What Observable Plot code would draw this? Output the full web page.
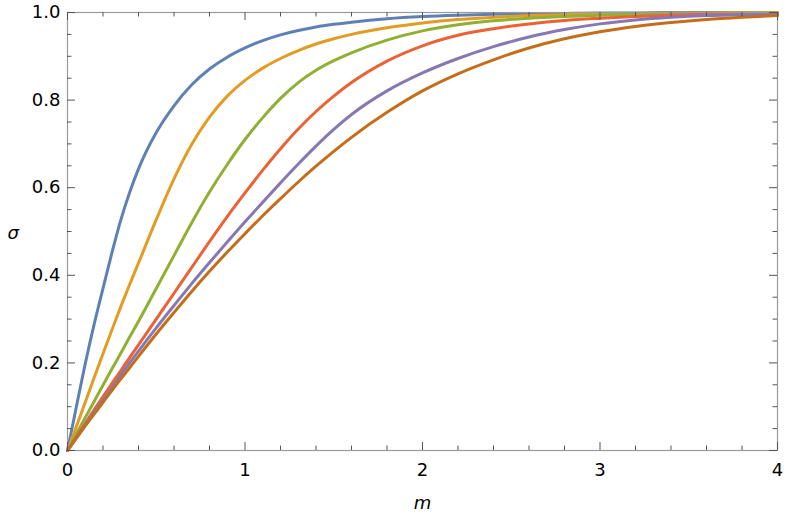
<!DOCTYPE html>
<html>
<head>
<meta charset="utf-8">
<script src="https://cdn.jsdelivr.net/npm/d3@7"></script>
<script src="https://cdn.jsdelivr.net/npm/@observablehq/plot@0.6"></script>
<style>
  html, body { margin: 0; padding: 0; background: #ffffff; }
  #chart { width: 786px; height: 523px; }
</style>
</head>
<body>
<div id="chart"></div>
<script>
// sample positions along m
const mValues = [0, 0.05, 0.1, 0.15, 0.2, 0.25, 0.3, 0.35, 0.4, 0.5, 0.6, 0.7, 0.8, 0.9, 1.0, 1.1, 1.2, 1.3, 1.4, 1.5, 1.6, 1.8, 2.0, 2.2, 2.4, 2.6, 2.8, 3.0, 3.2, 3.4, 3.6, 3.8, 4.0];

// sigma for each curve
const sigma1 = [0, 0.100, 0.198, 0.288, 0.370, 0.451, 0.526, 0.589, 0.643, 0.726, 0.787, 0.835, 0.871, 0.898, 0.919, 0.936, 0.949, 0.959, 0.967, 0.973, 0.978, 0.986, 0.991, 0.994, 0.996, 0.997, 0.998, 0.999, 0.999, 1.000, 1.000, 1.000, 1.000];
const sigma2 = [0, 0.055, 0.110, 0.166, 0.221, 0.275, 0.328, 0.379, 0.428, 0.527, 0.620, 0.699, 0.761, 0.809, 0.845, 0.873, 0.895, 0.913, 0.928, 0.940, 0.950, 0.965, 0.976, 0.984, 0.989, 0.993, 0.995, 0.997, 0.998, 0.999, 0.999, 1.000, 1.000];
const sigma3 = [0, 0.038, 0.075, 0.112, 0.149, 0.186, 0.222, 0.259, 0.295, 0.370, 0.445, 0.520, 0.590, 0.653, 0.710, 0.760, 0.804, 0.840, 0.868, 0.890, 0.908, 0.937, 0.958, 0.972, 0.981, 0.987, 0.991, 0.994, 0.996, 0.997, 0.998, 0.999, 0.999];
const sigma4 = [0, 0.031, 0.062, 0.093, 0.123, 0.153, 0.182, 0.212, 0.241, 0.300, 0.359, 0.418, 0.477, 0.534, 0.588, 0.640, 0.689, 0.734, 0.774, 0.809, 0.840, 0.889, 0.924, 0.948, 0.963, 0.974, 0.982, 0.987, 0.991, 0.994, 0.996, 0.997, 0.998];
const sigma5 = [0, 0.029, 0.058, 0.087, 0.115, 0.143, 0.172, 0.200, 0.227, 0.280, 0.331, 0.381, 0.429, 0.476, 0.522, 0.567, 0.611, 0.654, 0.695, 0.733, 0.767, 0.821, 0.862, 0.895, 0.922, 0.944, 0.961, 0.974, 0.983, 0.989, 0.993, 0.995, 0.997];
const sigma6 = [0, 0.028, 0.056, 0.083, 0.110, 0.137, 0.163, 0.189, 0.215, 0.266, 0.315, 0.363, 0.409, 0.453, 0.495, 0.536, 0.575, 0.613, 0.649, 0.683, 0.715, 0.772, 0.821, 0.860, 0.892, 0.919, 0.940, 0.956, 0.968, 0.977, 0.984, 0.989, 0.993];

const seriesNames = ["c1", "c2", "c3", "c4", "c5", "c6"];
const seriesColors = ["#5E81B5", "#E19C24", "#8FB032", "#EB6235", "#8778B3", "#C56E1A"];

// axis ticks and labels
const xMajorTicks = [0, 1, 2, 3, 4];
const xMinorTicks = [0.2, 0.4, 0.6, 0.8, 1.2, 1.4, 1.6, 1.8, 2.2, 2.4, 2.6, 2.8, 3.2, 3.4, 3.6, 3.8];
const xTickLabels = ["0", "1", "2", "3", "4"];
const yMajorTicks = [0, 0.2, 0.4, 0.6, 0.8, 1.0];
const yMinorTicks = [0.05, 0.1, 0.15, 0.25, 0.3, 0.35, 0.45, 0.5, 0.55, 0.65, 0.7, 0.75, 0.85, 0.9, 0.95];
const yTickLabels = ["0.0", "0.2", "0.4", "0.6", "0.8", "1.0"];
const xAxisTitle = ["m"];
const yAxisTitle = ["σ"];

const allSeries = [sigma1, sigma2, sigma3, sigma4, sigma5, sigma6];
const rows = [];
allSeries.forEach((vals, i) => {
  vals.forEach((v, j) => rows.push({m: mValues[j], s: v, series: seriesNames[i]}));
});

const W = 786, H = 523;
const mt = 12, mb = 73, ml = 67, mr = 9;
const innerH = H - mt - mb;
const innerW = W - ml - mr;
const majorLen = 8, minorLen = 4.5;
const tickColor = "#555555";
const font = "DejaVu Sans, sans-serif";

const chart = Plot.plot({
  width: W,
  height: H,
  marginTop: mt,
  marginBottom: mb,
  marginLeft: ml,
  marginRight: mr,
  style: {fontFamily: font, fontSize: "18px", color: "#000", background: "#fff"},
  x: {domain: [0, 4], axis: null},
  y: {domain: [0, 1], axis: null},
  color: {domain: seriesNames, range: seriesColors},
  marks: [
    Plot.line(rows, {x: "m", y: "s", z: "series", stroke: "series", strokeWidth: 3, curve: "monotone-x", strokeLinejoin: "round"}),
    Plot.frame({stroke: "#9a9a9a", strokeWidth: 1.2}),
    // bottom ticks
    Plot.tickX(xMajorTicks, {x: d => d, stroke: tickColor, insetTop: innerH - majorLen}),
    Plot.tickX(xMinorTicks, {x: d => d, stroke: tickColor, insetTop: innerH - minorLen}),
    // top ticks
    Plot.tickX(xMajorTicks, {x: d => d, stroke: tickColor, insetBottom: innerH - majorLen}),
    Plot.tickX(xMinorTicks, {x: d => d, stroke: tickColor, insetBottom: innerH - minorLen}),
    // left ticks
    Plot.tickY(yMajorTicks, {y: d => d, stroke: tickColor, insetRight: innerW - majorLen}),
    Plot.tickY(yMinorTicks, {y: d => d, stroke: tickColor, insetRight: innerW - minorLen}),
    // right ticks
    Plot.tickY(yMajorTicks, {y: d => d, stroke: tickColor, insetLeft: innerW - majorLen}),
    Plot.tickY(yMinorTicks, {y: d => d, stroke: tickColor, insetLeft: innerW - minorLen}),
    // tick labels
    Plot.axisX({ticks: xMajorTicks, tickSize: 0, tickPadding: 13, tickFormat: (d) => xTickLabels[xMajorTicks.indexOf(d)], fontSize: 18, label: null, fill: "#000"}),
    Plot.axisY({ticks: yMajorTicks, tickSize: 0, tickPadding: 7, tickFormat: (d) => yTickLabels[yMajorTicks.indexOf(d)], fontSize: 18, label: null, fill: "#000"}),
    // axis titles
    Plot.text(xAxisTitle, {frameAnchor: "bottom", dy: 58, text: d => d, fontSize: 18, fontStyle: "italic", fill: "#000"}),
    Plot.text(yAxisTitle, {frameAnchor: "left", dx: -60, dy: 2, text: d => d, fontSize: 18, fontStyle: "italic", fill: "#000"})
  ]
});

document.getElementById("chart").appendChild(chart);
</script>
</body>
</html>
